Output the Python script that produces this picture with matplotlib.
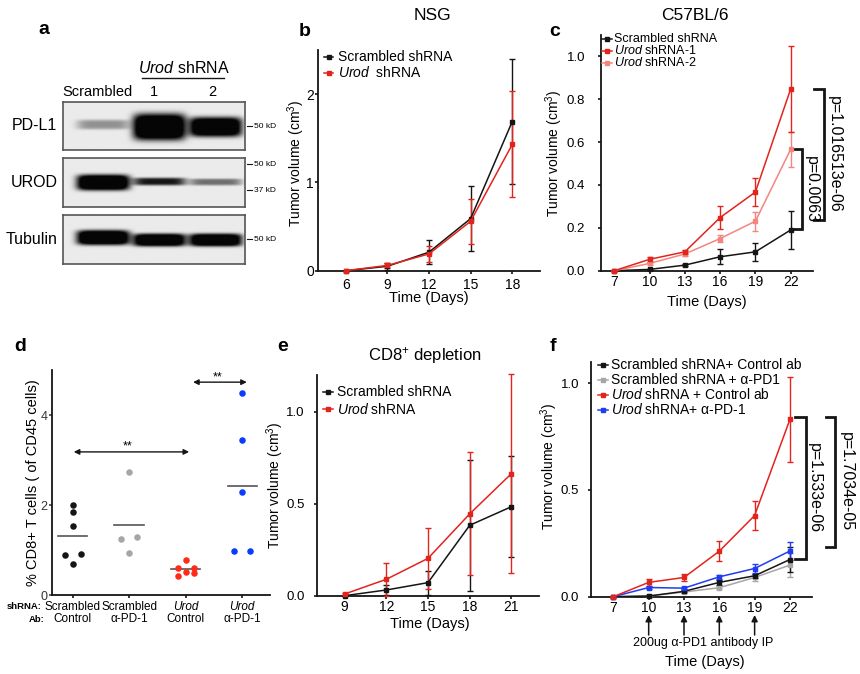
import numpy as np
import matplotlib
matplotlib.use("Agg")
import matplotlib.pyplot as plt
from matplotlib.lines import Line2D

plt.rcParams["font.family"] = ["Liberation Sans", "DejaVu Sans"]
plt.rcParams["mathtext.fontset"] = "custom"
plt.rcParams["mathtext.rm"] = "Liberation Sans"
plt.rcParams["mathtext.it"] = "Liberation Sans:italic"
plt.rcParams["mathtext.bf"] = "Liberation Sans:bold"

W, H = 860, 674

# ---- a: western blot, band strength per lane (Scrambled, shRNA 1, shRNA 2)
blot_names = ["PD-L1", "UROD", "Tubulin"]
pdl1_bands = [0.25, 1.0, 0.95]
urod_bands = [1.0, 0.6, 0.35]
tubulin_bands = [1.0, 0.95, 0.95]
blot_lanes = ["Scrambled", "1", "2"]

# ---- b: NSG
nsg_days = [6, 9, 12, 15, 18]
nsg_scr = [0.0, 0.05, 0.21, 0.59, 1.69]
nsg_scr_err = [0.0, 0.04, 0.135, 0.37, 0.71]
nsg_urod = [0.0, 0.06, 0.19, 0.56, 1.43]
nsg_urod_err = [0.0, 0.03, 0.09, 0.255, 0.6]

# ---- c: C57BL/6
c57_days = [7, 10, 13, 16, 19, 22]
c57_scr = [0.0, 0.006, 0.026, 0.065, 0.088, 0.19]
c57_scr_err = [0.0, 0.003, 0.004, 0.035, 0.042, 0.09]
c57_urod1 = [0.0, 0.053, 0.088, 0.248, 0.367, 0.848]
c57_urod1_err = [0.0, 0.012, 0.01, 0.052, 0.067, 0.2]
c57_urod2 = [0.0, 0.034, 0.078, 0.15, 0.231, 0.566]
c57_urod2_err = [0.0, 0.008, 0.01, 0.018, 0.045, 0.08]
c57_pvals = ["p=0.0063", "p=1.016513e-06"]
c57_br_lo = [0.195, 0.236]
c57_br_hi = [0.566, 0.848]

# ---- d: % CD8+ T cells
cd8_scr_ctrl = [2.0, 1.84, 1.53, 0.92, 0.90, 0.70]
cd8_scr_pd1 = [2.73, 1.28, 1.24, 0.93]
cd8_urod_ctrl = [0.78, 0.61, 0.61, 0.52, 0.42, 0.48]
cd8_urod_pd1 = [4.48, 3.44, 2.28, 0.98, 0.98]
cd8_shrna = ["Scrambled", "Scrambled", "Urod", "Urod"]
cd8_ab = ["Control", "α-PD-1", "Control", "α-PD-1"]

# ---- e: CD8+ depletion
dep_days = [9, 12, 15, 18, 21]
dep_scr = [0.0, 0.031, 0.071, 0.383, 0.484]
dep_scr_err = [0.0, 0.028, 0.066, 0.355, 0.275]
dep_urod = [0.009, 0.089, 0.203, 0.445, 0.664]
dep_urod_err = [0.005, 0.09, 0.165, 0.335, 0.54]

# ---- f: anti-PD-1
pd1_days = [7, 10, 13, 16, 19, 22]
pd1_scr_ctrl = [0.0, 0.003, 0.025, 0.067, 0.098, 0.174]
pd1_scr_ctrl_err = [0.0, 0.003, 0.005, 0.01, 0.01, 0.06]
pd1_scr_pd1 = [0.0, 0.003, 0.022, 0.042, 0.09, 0.148]
pd1_scr_pd1_err = [0.0, 0.003, 0.005, 0.008, 0.015, 0.055]
pd1_urod_ctrl = [0.0, 0.067, 0.09, 0.213, 0.38, 0.83]
pd1_urod_ctrl_err = [0.0, 0.018, 0.015, 0.048, 0.068, 0.2]
pd1_urod_pd1 = [0.0, 0.043, 0.04, 0.093, 0.132, 0.214]
pd1_urod_pd1_err = [0.0, 0.006, 0.005, 0.01, 0.023, 0.042]
injection_days = [10, 13, 16, 19]
pd1_pvals = ["p=1.533e-06", "p=1.7034e-05"]
pd1_br_lo = [0.177, 0.233]
pd1_br_hi = [0.843, 0.843]

BLACK = "#151515"
RED = "#e3241d"
PINK = "#f3857f"
GRAY = "#a6a6a6"
BLUE = "#1f3cf2"

fig = plt.figure(figsize=(W / 100, H / 100), dpi=100)


def px_axes(l, t, r, b):
    return fig.add_axes([l / W, 1 - b / H, (r - l) / W, (b - t) / H])


def ftext(x, y, s, **kw):
    return fig.text(x / W, 1 - y / H, s, **kw)


def style(ax, xpad, ypad, ysize=10):
    for s in ["top", "right"]:
        ax.spines[s].set_visible(False)
    for s in ["left", "bottom"]:
        ax.spines[s].set_linewidth(1.3)
        ax.spines[s].set_color(BLACK)
    ax.tick_params(direction="out", length=2.5, width=1.1, labelsize=10)
    ax.tick_params(axis="x", pad=xpad)
    ax.tick_params(axis="y", pad=ypad, labelsize=ysize)


def growth(ax, x, y, err, color):
    ax.errorbar(x, y, yerr=err, color=color, marker="s", ms=3, lw=1.1,
                elinewidth=1, capsize=2.5, capthick=1, clip_on=False, zorder=3)


def px_legend(entries, x0, x1, xt, ys, fs):
    for (label, color), y in zip(entries, ys):
        fy = 1 - y / H
        fig.add_artist(Line2D([x0 / W, x1 / W], [fy, fy], color=color, lw=1.1))
        fig.add_artist(Line2D([(x0 + x1) / 2 / W], [fy], color=color, marker="s", ms=3))
        ftext(xt, y, label, fontsize=fs, va="center", ha="left")


def bracket(ax, lo, hi, x_tick, x_bar, x_text, label):
    ax.plot([x_tick, x_bar, x_bar, x_tick], [hi, hi, lo, lo], color=BLACK, lw=2,
            clip_on=False, solid_joinstyle="miter")
    ax.text(x_text, (lo + hi) / 2, label, rotation=-90, ha="center", va="center",
            fontsize=11.5, clip_on=False)


# ================= a: blot =================
lane_x = [0.22, 0.53, 0.84]
blot_boxes = [(101.7, 150), (158.3, 206.7), (215, 264)]
band_rows = [
    [(0.48, 0.10), (0.53, 0.27), (0.53, 0.20)],
    [(0.50, 0.16), (0.48, 0.08), (0.49, 0.07)],
    [(0.46, 0.15), (0.51, 0.13), (0.51, 0.13)],
]
for name, bands, rows, (top, bot) in zip(blot_names, [pdl1_bands, urod_bands, tubulin_bands],
                                        band_rows, blot_boxes):
    ax = px_axes(63.3, top, 245, bot)
    yy, xx = np.mgrid[0:1:80j, 0:1:260j]
    img = np.full(xx.shape, 0.92)
    for cx, amp, (cy, hh) in zip(lane_x, bands, rows):
        prof = np.exp(-(np.abs(xx - cx) / 0.145) ** 6) * np.exp(-(np.abs(yy - cy) / hh) ** 4)
        img -= 1.4 * amp * prof
    ax.imshow(np.clip(img, 0.02, 1), cmap="gray", vmin=0, vmax=1, aspect="auto",
              extent=(0, 1, 1, 0), interpolation="bilinear")
    ax.set_xticks([])
    ax.set_yticks([])
    for s in ax.spines.values():
        s.set_color("#555555")
        s.set_linewidth(1.2)
    ftext(57.5, (top + bot) / 2, name, fontsize=11.5, ha="right", va="center")

ftext(183.5, 68, r"$\mathit{Urod}$ shRNA", fontsize=11.5, ha="center", va="center")
fig.add_artist(Line2D([141.7 / W, 224 / W], [1 - 77.7 / H] * 2, color=BLACK, lw=1))
for lab, x in zip(blot_lanes, [97.3, 154, 212]):
    ftext(x, 91.7, lab, fontsize=10.5, ha="center", va="center")
for y, lab in [(126, "50 kD"), (164, "50 kD"), (190, "37 kD"), (239.3, "50 kD")]:
    fig.add_artist(Line2D([247.3 / W, 252.3 / W], [1 - y / H] * 2, color=BLACK, lw=0.8))
    ftext(253.5, y, lab, fontsize=6, ha="left", va="center")

# ================= b: NSG =================
ax = px_axes(318, 50, 540, 270.7)
style(ax, 2.8, 0.5)
growth(ax, nsg_days, nsg_scr, nsg_scr_err, BLACK)
growth(ax, nsg_days, nsg_urod, nsg_urod_err, RED)
ax.set_xlim(4, 20)
ax.set_ylim(0, 2.5)
ax.set_xticks(nsg_days)
ax.set_yticks([0, 1, 2])
ax.set_xlabel("Time (Days)", fontsize=10.5)
ax.xaxis.set_label_coords(0.497, -0.092)
ax.set_ylabel("Tumor volume (cm$^3$)", fontsize=10)
ax.yaxis.set_label_coords(-0.05, 0.486)
px_legend([("Scrambled shRNA", BLACK), (r"$\mathit{Urod}$  shRNA", RED)],
          324.3, 333.3, 338.3, [57, 72.5], 10)

# ================= c: C57BL/6 =================
ax = px_axes(601, 35, 813, 270.7)
style(ax, 0.7, 9, 9.5)
growth(ax, c57_days, c57_scr, c57_scr_err, BLACK)
growth(ax, c57_days, c57_urod2, c57_urod2_err, PINK)
growth(ax, c57_days, c57_urod1, c57_urod1_err, RED)
ax.set_xlim(5.87, 23.9)
ax.set_ylim(0, 1.1)
ax.set_xticks(c57_days)
ax.set_yticks([0, 0.2, 0.4, 0.6, 0.8, 1.0])
ax.set_yticklabels([f"{v:.1f}" for v in [0, 0.2, 0.4, 0.6, 0.8, 1.0]])
ax.set_xlabel("Time (Days)", fontsize=10.5)
ax.xaxis.set_label_coords(0.499, -0.103)
ax.set_ylabel("Tumor volume (cm$^3$)", fontsize=10)
ax.yaxis.set_label_coords(-0.172, 0.5)
bracket(ax, c57_br_lo[0], c57_br_hi[0], 22.28, 22.96, 23.78, c57_pvals[0])
bracket(ax, c57_br_lo[1], c57_br_hi[1], 23.98, 24.83, 25.76, c57_pvals[1])
px_legend([("Scrambled shRNA", BLACK), (r"$\mathit{Urod}$ shRNA-1", RED),
           (r"$\mathit{Urod}$ shRNA-2", PINK)], 601.7, 611.7, 614.3, [39, 51, 63], 9)

# ================= d: CD8+ T cells =================
def swarm_offsets(vals, step=0.14, bin_size=0.1):
    vals = np.asarray(vals)
    rows = np.floor(vals / bin_size + 1e-9).astype(int)
    off = np.zeros(len(vals))
    for r in np.unique(rows):
        idx = np.where(rows == r)[0]
        idx = idx[np.argsort(vals[idx])]
        n = len(idx)
        k = 2 if n % 2 == 0 else 1
        off[idx] = (np.arange(n) - (n - 1) / 2) * step * k
    return off


ax = px_axes(51.7, 370, 270, 595)
style(ax, 3, 0.5)
cd8_groups = [cd8_scr_ctrl, cd8_scr_pd1, cd8_urod_ctrl, cd8_urod_pd1]
cd8_colors = [BLACK, GRAY, "#ff2a1a", "#0a3cff"]
for i, (vals, col) in enumerate(zip(cd8_groups, cd8_colors)):
    xs = i + 1 + swarm_offsets(vals)
    ax.scatter(xs, vals, s=22, color=col, linewidths=0, zorder=3, clip_on=False)
    m = np.mean(vals)
    ax.plot([i + 1 - 0.26, i + 1 + 0.26], [m, m], color="#555555", lw=1.2)
ax.set_xlim(0.63, 4.49)
ax.set_ylim(0, 5)
ax.set_yticks([0, 2, 4])
ax.set_xticks([1, 2, 3, 4])
ax.set_xticklabels([""] * 4)
ax.tick_params(axis="y", labelsize=9, colors="#333333")
ax.set_ylabel("% CD8+ T cells ( of CD45 cells)", fontsize=10.5)
ax.yaxis.set_label_coords(-0.054, 0.5)
tr = ax.get_xaxis_transform()
for i, (s, a) in enumerate(zip(cd8_shrna, cd8_ab)):
    ax.text(i + 1, -0.052, s, transform=tr, ha="center", va="center", fontsize=8.5,
            style="italic" if s == "Urod" else "normal")
    ax.text(i + 1, -0.107, a, transform=tr, ha="center", va="center", fontsize=8.5)
ftext(42, 606.7, "shRNA:", fontsize=6.8, fontweight="bold", ha="right", va="center")
ftext(45, 619, "Ab:", fontsize=6.8, fontweight="bold", ha="right", va="center")
arrow_kw = dict(arrowstyle="<|-|>", color=BLACK, lw=1, mutation_scale=8, shrinkA=0, shrinkB=0)
ax.annotate("", xy=(3.06, 3.18), xytext=(1.02, 3.18), arrowprops=arrow_kw)
ax.text(1.98, 3.3, "**", ha="center", va="center", fontsize=9)
ax.annotate("", xy=(4.08, 4.73), xytext=(3.13, 4.73), arrowprops=arrow_kw, annotation_clip=False)
ax.text(3.57, 4.84, "**", ha="center", va="center", fontsize=9)

# ================= e: CD8+ depletion =================
ax = px_axes(316.7, 375, 539.3, 595.7)
style(ax, 0.5, 6, 9.5)
growth(ax, dep_days, dep_scr, dep_scr_err, BLACK)
growth(ax, dep_days, dep_urod, dep_urod_err, RED)
ax.set_xlim(7, 23)
ax.set_ylim(0, 1.2)
ax.set_xticks(dep_days)
ax.set_yticks([0, 0.5, 1.0])
ax.set_yticklabels(["0.0", "0.5", "1.0"])
ax.set_xlabel("Time (Days)", fontsize=10.5)
ax.xaxis.set_label_coords(0.509, -0.097)
ax.set_ylabel("Tumor volume (cm$^3$)", fontsize=10)
ax.yaxis.set_label_coords(-0.138, 0.5)
px_legend([("Scrambled shRNA", BLACK), (r"$\mathit{Urod}$ shRNA", RED)],
          323.3, 333.3, 336.7, [391.7, 409.3], 10)

# ================= f: anti-PD-1 =================
ax = px_axes(591, 361.7, 812.3, 596.7)
style(ax, 0.7, 6, 9.5)
growth(ax, pd1_days, pd1_scr_pd1, pd1_scr_pd1_err, GRAY)
growth(ax, pd1_days, pd1_scr_ctrl, pd1_scr_ctrl_err, BLACK)
growth(ax, pd1_days, pd1_urod_pd1, pd1_urod_pd1_err, BLUE)
growth(ax, pd1_days, pd1_urod_ctrl, pd1_urod_ctrl_err, RED)
ax.set_xlim(5.1, 23.9)
ax.set_ylim(0, 1.1)
ax.set_xticks(pd1_days)
ax.set_yticks([0, 0.5, 1.0])
ax.set_yticklabels(["0.0", "0.5", "1.0"])
ax.set_xlabel("Time (Days)", fontsize=10.5)
ax.xaxis.set_label_coords(0.515, -0.248)
ax.set_ylabel("Tumor volume (cm$^3$)", fontsize=10)
ax.yaxis.set_label_coords(-0.14, 0.556)
bracket(ax, pd1_br_lo[0], pd1_br_hi[0], 22.42, 23.33, 24.12, pd1_pvals[0])
bracket(ax, pd1_br_lo[1], pd1_br_hi[1], 25.1, 25.87, 26.8, pd1_pvals[1])
for d in injection_days:
    ax.annotate("", xy=(d, -0.078), xycoords=("data", "axes fraction"),
                xytext=(d, -0.163), textcoords=("data", "axes fraction"),
                arrowprops=dict(arrowstyle="-|>", lw=1.1, color=BLACK, mutation_scale=9,
                                shrinkA=0, shrinkB=0), annotation_clip=False)
ax.text(14.6, -0.196, "200ug α-PD1 antibody IP", transform=ax.get_xaxis_transform(),
        ha="center", va="center", fontsize=9)
px_legend([("Scrambled shRNA+ Control ab", BLACK), ("Scrambled shRNA + α-PD1", GRAY),
           (r"$\mathit{Urod}$ shRNA + Control ab", RED), (r"$\mathit{Urod}$ shRNA+ α-PD-1", BLUE)],
          598.3, 608.3, 610.7, [364.5, 379.5, 394.5, 409.5], 10)

# ================= titles and panel letters =================
ftext(432, 15, "NSG", fontsize=12.5, ha="center", va="center")
ftext(695, 15, "C57BL/6", fontsize=12.5, ha="center", va="center")
ftext(425, 355, "CD8$^{+}$ depletion", fontsize=12, ha="center", va="center")
for lab, x, y in [("a", 44, 29), ("b", 305, 32), ("c", 555, 32),
                  ("d", 20, 347), ("e", 283, 347), ("f", 553, 347)]:
    ftext(x, y, lab, fontsize=14, fontweight="bold", ha="center", va="center")

fig.savefig("out.png", dpi=100)
